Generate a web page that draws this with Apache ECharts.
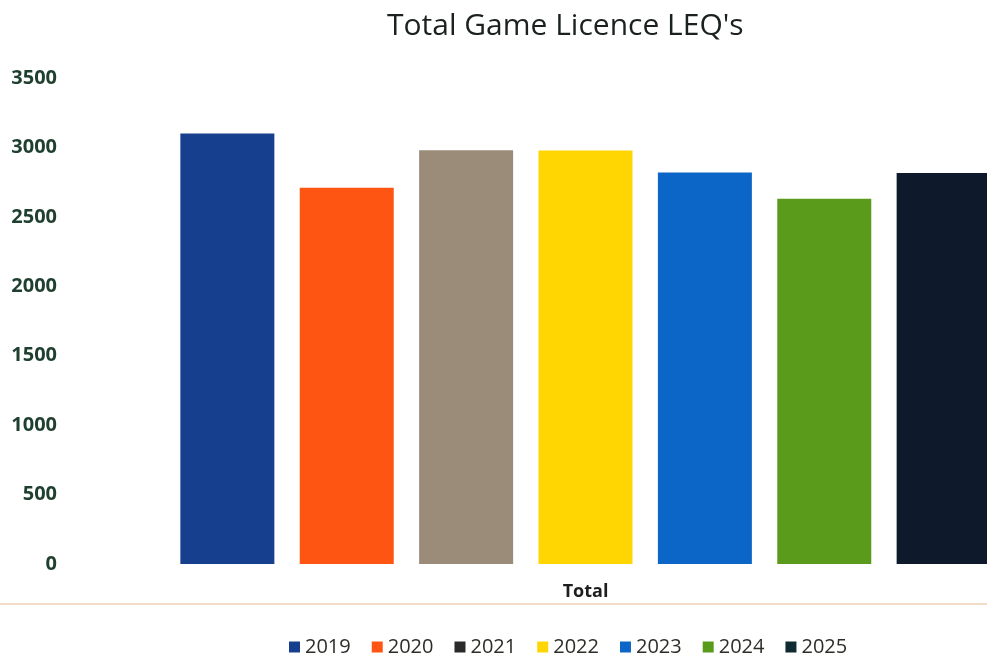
<!DOCTYPE html>
<html>
<head>
<meta charset="utf-8">
<script src="https://cdn.jsdelivr.net/npm/echarts@6/dist/echarts.min.js"></script>
<style>
  html, body { margin: 0; padding: 0; background: #ffffff; }
  #chart { width: 987px; height: 657px; }
</style>
</head>
<body>
<div id="chart"></div>
<script>
// Categories and values
const categories = ['Total'];
const years = ['2019', '2020', '2021', '2022', '2023', '2024', '2025'];
const leqTotals = [3100, 2710, 2980, 2978, 2820, 2630, 2815];
const yTicks = [0, 500, 1000, 1500, 2000, 2500, 3000, 3500];

// Bar fills and legend swatches per year
const barColors = ['#163f8e', '#ff5512', '#9a8c78', '#ffd602', '#0c66c8', '#5b9b1c', '#0e1a2b'];
const swatchColors = ['#163f8e', '#ff5512', '#2a2a2a', '#ffd602', '#0c66c8', '#5b9b1c', '#0f2a30'];

const FONT = '"Open Sans", "Noto Sans", sans-serif';

const chart = echarts.init(document.getElementById('chart'), null, { renderer: 'canvas' });

const series = years.map((y, i) => ({
  name: y,
  type: 'bar',
  data: [leqTotals[i]],
  barWidth: 94,
  barGap: '27%',
  clip: false,
  itemStyle: { color: barColors[i] }
}));

chart.setOption({
  animation: false,
  backgroundColor: '#ffffff',
  title: {
    text: "Total Game Licence LEQ's",
    left: 382,
    top: 6,
    textStyle: { fontFamily: FONT, fontSize: 30, fontWeight: 'normal', color: '#1a2120' }
  },
  // the bar group sits right of centre, so the grid starts well inside the labels
  grid: { left: 184, right: 0, top: 78, bottom: 93 },
  legend: {
    left: 284,
    top: 632,
    itemWidth: 11,
    itemHeight: 11,
    itemGap: 21,
    icon: 'rect',
    data: years.map((y, i) => ({ name: y, itemStyle: { color: swatchColors[i] } })),
    textStyle: { fontFamily: FONT, fontSize: 20, color: '#2c2f28' }
  },
  xAxis: {
    type: 'category',
    data: categories,
    axisLine: { show: false },
    axisTick: { show: false },
    axisLabel: {
      margin: 19,
      fontFamily: FONT, fontSize: 18, fontWeight: 'bold', color: '#1e1e1e'
    }
  },
  yAxis: {
    type: 'value',
    min: yTicks[0],
    max: yTicks[yTicks.length - 1],
    interval: yTicks[1] - yTicks[0],
    splitLine: { show: false },
    axisLine: { show: false },
    axisTick: { show: false },
    axisLabel: {
      margin: 127,
      formatter: v => String(v),
      fontFamily: FONT, fontSize: 20, fontWeight: 'bold', color: '#1f3f2f'
    }
  },
  graphic: [{
    type: 'line',
    shape: { x1: 0, y1: 604, x2: 987, y2: 604 },
    style: { stroke: '#f2dcc6', lineWidth: 2 }
  }],
  series: series
});
</script>
</body>
</html>
